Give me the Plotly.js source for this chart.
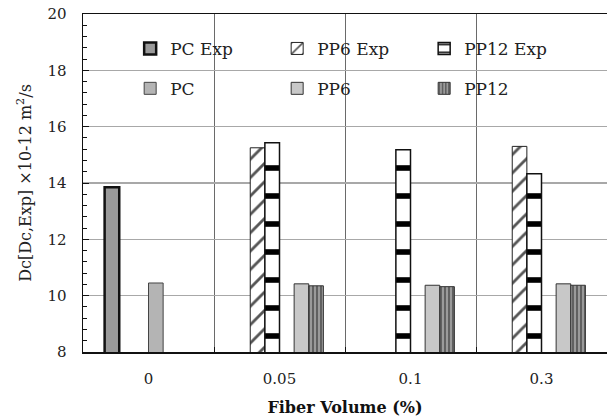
<!DOCTYPE html>
<html>
<head>
<meta charset="utf-8">
<script src="https://cdn.plot.ly/plotly-3.0.1.min.js"></script>
<style>html,body{margin:0;padding:0;overflow:hidden;background:#fff}</style>
</head>
<body>
<div id="chart" style="width:607px;height:419px"></div>
<script>
// Categories (fiber volume %)
const categories = ["0", "0.05", "0.1", "0.3"];
// Series values (Dc x 10^-12 m2/s)
const pcExp   = [13.85, null, null, null];
const pp6Exp  = [null, 15.25, null, 15.3];
const pp12Exp = [null, 15.43, 15.18, 14.33];
const pc      = [10.45, null, null, null];
const pp6     = [null, 10.42, 10.37, 10.42];
const pp12    = [null, 10.35, 10.32, 10.37];
const yTicks  = [8, 10, 12, 14, 16, 18, 20];

const serif = "DejaVu Serif, Liberation Serif, serif";

const traces = [
  {name: "PC Exp", y: pcExp, legend: "legend",
   marker: {color: "#9a9a9a", line: {color: "#111", width: 2.5}}},
  {name: "PP6 Exp", y: pp6Exp, legend: "legend",
   marker: {color: "#ffffff", line: {color: "#222", width: 1},
            pattern: {shape: "/", bgcolor: "#ffffff", fgcolor: "#555555", size: 13, solidity: 0.22}}},
  {name: "PP12 Exp", y: pp12Exp, legend: "legend",
   marker: {color: "#ffffff", line: {color: "#111", width: 1.5},
            pattern: {shape: "-", bgcolor: "#ffffff", fgcolor: "#000000", size: 28, solidity: 0.2}}},
  {name: "PC", y: pc, legend: "legend2",
   marker: {color: "#b4b4b4", line: {color: "#444", width: 1}}},
  {name: "PP6", y: pp6, legend: "legend2",
   marker: {color: "#c8c8c8", line: {color: "#333", width: 1}}},
  {name: "PP12", y: pp12, legend: "legend2",
   marker: {color: "#8a8a8a", line: {color: "#333", width: 1},
            pattern: {shape: "|", bgcolor: "#9a9a9a", fgcolor: "#5a5a5a", size: 4, solidity: 0.45}}}
].map(t => Object.assign({type: "bar", x: categories, xaxis: "x", yaxis: "y", hoverinfo: "skip"}, t));

// centre gridlines on a helper axis
const centreIdx = categories.map((c, i) => i);

const legendCommon = {
  orientation: "h", xanchor: "left", yanchor: "top",
  bgcolor: "rgba(0,0,0,0)", borderwidth: 0,
  font: {family: serif, size: 17, color: "#222"},
  entrywidth: 102, entrywidthmode: "pixels", itemwidth: 30,
  traceorder: "normal"
};

const layout = {
  width: 607, height: 419,
  margin: {l: 83, r: 0, t: 14, b: 67},
  paper_bgcolor: "#fff", plot_bgcolor: "#fff",
  barmode: "group", bargap: 0.33, bargroupgap: 0,
  font: {family: serif, size: 15, color: "#222"},
  showlegend: true,
  legend: Object.assign({x: 0.09, y: 0.95}, legendCommon),
  legend2: Object.assign({x: 0.09, y: 0.832}, legendCommon),
  xaxis: {
    type: "category", tickson: "boundaries",
    showline: true, linecolor: "#111", linewidth: 1.5, mirror: true,
    showgrid: true, gridcolor: "#6a6a6a", gridwidth: 1,
    ticks: "inside", ticklen: 5, tickcolor: "#111",
    tickfont: {family: serif, size: 15, color: "#222"},
    ticklabelstandoff: 12,
    title: {text: "Fiber Volume (%)", font: {family: serif, size: 16, color: "#111", weight: "bold"}, standoff: 15},
    automargin: false
  },
  xaxis2: {
    overlaying: "x", anchor: "y", range: [-0.5, 3.5],
    tickvals: centreIdx, showticklabels: false, ticks: "",
    showgrid: true, gridcolor: "#b0b0b0", gridwidth: 1.5, zeroline: false, showline: false
  },
  yaxis: {
    range: [8, 20], tickvals: yTicks,
    showline: true, linecolor: "#111", linewidth: 1.5,
    showgrid: true, gridcolor: "#a8a8a8", gridwidth: 1.5, zeroline: false,
    ticks: "inside", ticklen: 6, tickcolor: "#111",
    minor: {dtick: 0.4, ticks: "inside", ticklen: 4, tickcolor: "#111", showgrid: false},
    tickfont: {family: serif, size: 15, color: "#222"},
    ticklabelstandoff: 12,
    title: {text: "\u00a0\u00a0\u00a0\u00a0\u00a0\u00a0Dc[Dc,Exp] ×10-12 m<sup>2</sup>/s", font: {family: serif, size: 16, color: "#222"}, standoff: 12},
    automargin: false
  }
};

Plotly.newPlot("chart", traces, layout, {displayModeBar: false, staticPlot: true});
</script>
</body>
</html>
